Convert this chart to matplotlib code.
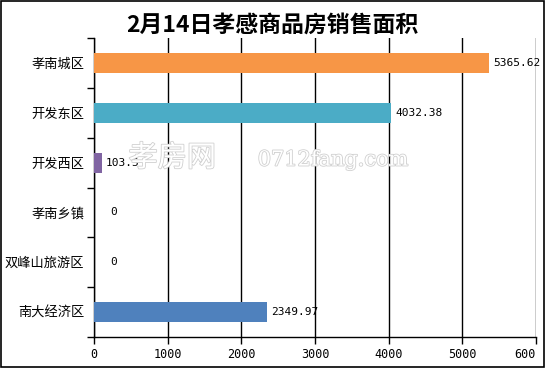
import matplotlib
matplotlib.use("Agg")
import matplotlib.pyplot as plt
import matplotlib.patheffects as pe
import numpy as np

plt.rcParams['font.family'] = ['Noto Sans CJK SC', 'DejaVu Sans']

# data
categories = ["孝南城区", "开发东区", "开发西区", "孝南乡镇", "双峰山旅游区", "南大经济区"]
values = [5365.62, 4032.38, 103.5, 0, 0, 2349.97]
labels = ["5365.62", "4032.38", "103.5", "0", "0", "2349.97"]
colors = ["#F79646", "#4BACC6", "#8064A2", "#4BACC6", "#4BACC6", "#4F81BD"]
xticks = [0, 1000, 2000, 3000, 4000, 5000, 6000]
xticklabels = ["0", "1000", "2000", "3000", "4000", "5000", "600"]

fig = plt.figure(figsize=(5.45, 3.68), dpi=100)
ax = fig.add_axes([94 / 545, 1 - 337 / 368, 442 / 545, 299 / 368])

y = np.arange(len(categories))
ax.barh(y, values, height=0.4, color=colors, zorder=3)
ax.set_ylim(len(categories) - 0.5, -0.5)
ax.set_xlim(0, 6000)

for yi, v, lab in zip(y, values, labels):
    ax.annotate(lab, (v, yi), xytext=(3 if v > 0 else 12, 0), textcoords="offset points",
                ha="left", va="center", fontsize=8, color="black",
                family=["DejaVu Sans Mono", "DejaVu Sans"], zorder=4)

ax.set_yticks(y)
ax.set_yticklabels(categories, fontsize=9.5)
ax.set_yticks(np.arange(-0.5, len(categories)), minor=True)
ax.tick_params(axis="y", which="major", length=0, pad=7)
ax.tick_params(axis="y", which="minor", length=5, width=1, direction="out")

ax.set_xticks(xticks)
ax.set_xticklabels(xticklabels, fontsize=8.5, family=["DejaVu Sans Mono", "DejaVu Sans"])
ax.get_xticklabels()[-1].set_horizontalalignment("right")
ax.get_xticklabels()[-1].set_x(6000)
ax.tick_params(axis="x", length=5, width=1, direction="out", pad=3)
ax.xaxis.grid(True, color="black", linewidth=1, zorder=1)

for side in ["top", "right"]:
    ax.spines[side].set_visible(False)
ax.spines["left"].set_linewidth(1)
ax.spines["bottom"].set_linewidth(1)

# watermark
fig.text(0.316, 0.57, "孝房网", fontsize=21, color="white", ha="center", va="center",
         path_effects=[pe.withStroke(linewidth=1.2, foreground="#d0d0d0")], zorder=5)
fig.text(0.473, 0.565, "0712fang.com", fontsize=15, color="white", ha="left", va="center",
         family=["DejaVu Serif"],
         path_effects=[pe.withStroke(linewidth=1.2, foreground="#d0d0d0")], zorder=5)

fig.text(0.5, 1 - 25 / 368, "2月14日孝感商品房销售面积", fontsize=16.5, fontweight="bold",
         ha="center", va="center")

# outer border
fig.patches.append(plt.Rectangle((0.001, 0.002), 0.997, 0.996, transform=fig.transFigure,
                                 fill=False, edgecolor="black", linewidth=1.2))

fig.savefig("out.png", dpi=100)
